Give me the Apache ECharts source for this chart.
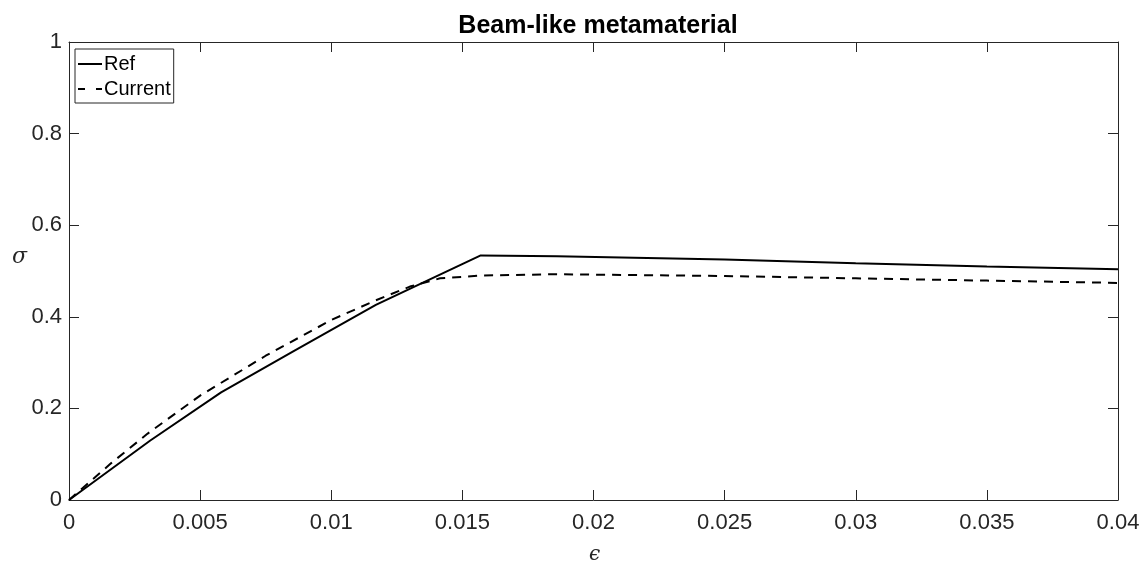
<!DOCTYPE html>
<html>
<head>
<meta charset="utf-8">
<script src="https://cdn.jsdelivr.net/npm/echarts@6/dist/echarts.min.js"></script>
<style>
  html, body { margin: 0; padding: 0; background: #fff; }
  #chart { width: 1148px; height: 564px; }
</style>
</head>
<body>
<div id="chart"></div>
<script>
// strain / stress points
const refStrain = [0, 0.0031, 0.0058, 0.0086, 0.0117, 0.0157, 0.0186, 0.025, 0.03, 0.035, 0.04];
const refStress = [0, 0.13, 0.235, 0.326, 0.426, 0.534, 0.532, 0.525, 0.517, 0.510, 0.504];

const curStrain = [0, 0.0016, 0.003, 0.005, 0.0075, 0.01, 0.0117, 0.013, 0.01415, 0.0157, 0.0186, 0.025, 0.03, 0.035, 0.04];
const curStress = [0, 0.08, 0.145, 0.228, 0.315, 0.393, 0.436, 0.466, 0.484, 0.49, 0.493, 0.489, 0.484, 0.479, 0.474];

const xTicks = [0, 0.005, 0.01, 0.015, 0.02, 0.025, 0.03, 0.035, 0.04];
const yTicks = [0, 0.2, 0.4, 0.6, 0.8, 1];

const axisColor = "#262626";
const font = "Liberation Sans, Arial, sans-serif";

function zip(xs, ys) {
  return xs.map((x, i) => [x, ys[i]]);
}

const chart = echarts.init(document.getElementById("chart"));

const baseX = {
  type: "value",
  min: xTicks[0],
  max: xTicks[xTicks.length - 1],
  interval: 0.005,
  splitLine: { show: false },
  axisLine: { show: true, onZero: false, lineStyle: { color: axisColor, width: 1 } },
  axisTick: { show: true, inside: true, length: 10, lineStyle: { color: axisColor } }
};
const baseY = {
  type: "value",
  min: yTicks[0],
  max: yTicks[yTicks.length - 1],
  interval: 0.2,
  splitLine: { show: false },
  axisLine: { show: true, onZero: false, lineStyle: { color: axisColor, width: 1 } },
  axisTick: { show: true, inside: true, length: 10, lineStyle: { color: axisColor } }
};

chart.setOption({
  backgroundColor: "#fff",
  animation: false,
  title: {
    text: "Beam-like metamaterial",
    left: 593,
    textAlign: "center",
    top: 9,
    textStyle: { fontFamily: font, fontSize: 25, fontWeight: "bold", color: "#000" }
  },
  grid: { left: 69, right: 30, top: 42, bottom: 64 },
  legend: {
    orient: "vertical",
    left: 75,
    top: 49,
    padding: [5, 3, 4, 3],
    itemGap: 5,
    itemWidth: 24,
    itemHeight: 2,
    borderColor: axisColor,
    borderWidth: 1,
    backgroundColor: "#fff",
    textStyle: { fontFamily: font, fontSize: 20, color: "#000", padding: [0, 0, 0, -3] },
    itemStyle: { color: "#000" },
    data: [
      { name: "Ref", icon: "path://M0,0h24v2h-24z" },
      { name: "Current", icon: "path://M0,0h7v2h-7zM18,0h6v2h-6z" }
    ]
  },
  xAxis: [
    Object.assign({}, baseX, {
      position: "bottom",
      axisLabel: {
        fontFamily: font, fontSize: 22, color: axisColor, margin: 12,
        formatter: v => String(+v.toFixed(3))
      }
    }),
    Object.assign({}, baseX, { position: "top", axisLabel: { show: false } })
  ],
  yAxis: [
    Object.assign({}, baseY, {
      position: "left",
      axisLabel: {
        fontFamily: font, fontSize: 22, color: axisColor, margin: 7,
        formatter: v => String(+v.toFixed(1))
      }
    }),
    Object.assign({}, baseY, { position: "right", axisLabel: { show: false } })
  ],
  graphic: [
    {
      type: "text", left: 12, top: 246,
      style: { text: "σ", font: "italic 22px 'DejaVu Serif', serif", fill: axisColor }
    },
    {
      type: "text", left: 589, top: 545,
      style: { text: "ϵ", font: "italic 20px 'DejaVu Serif', serif", fill: axisColor }
    }
  ],
  series: [
    {
      name: "Ref",
      type: "line",
      data: zip(refStrain, refStress),
      showSymbol: false,
      symbol: "none",
      lineStyle: { color: "#000", width: 2 },
      itemStyle: { color: "#000" }
    },
    {
      name: "Current",
      type: "line",
      data: zip(curStrain, curStress),
      showSymbol: false,
      symbol: "none",
      lineStyle: { color: "#000", width: 2, type: [9, 7] },
      itemStyle: { color: "#000" }
    }
  ]
});
</script>
</body>
</html>
